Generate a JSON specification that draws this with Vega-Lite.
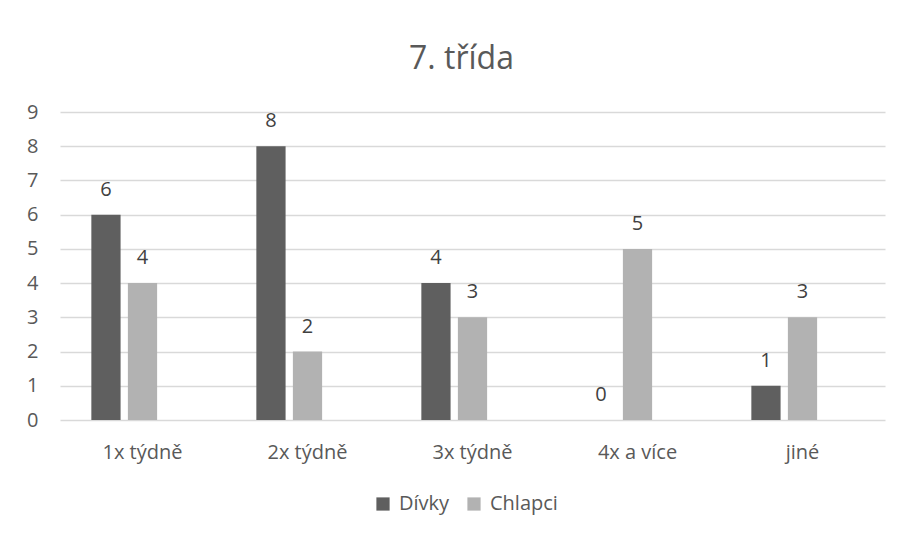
{
  "$schema": "https://vega.github.io/schema/vega-lite/v6.json",
  "autosize": "none",
  "width": 825,
  "height": 308,
  "padding": {"left": 60, "top": 112, "right": 19, "bottom": 116},
  "background": "white",
  "title": {
    "text": "7. třída",
    "font": "Open Sans",
    "fontSize": 32,
    "fontWeight": "normal",
    "color": "#595959",
    "anchor": "middle",
    "frame": "group",
    "baseline": "alphabetic",
    "offset": 1,
    "dx": -11
  },
  "data": {
    "values": [
      {"kategorie": "1x týdně", "skupina": "Dívky", "pocet": 6},
      {"kategorie": "1x týdně", "skupina": "Chlapci", "pocet": 4},
      {"kategorie": "2x týdně", "skupina": "Dívky", "pocet": 8},
      {"kategorie": "2x týdně", "skupina": "Chlapci", "pocet": 2},
      {"kategorie": "3x týdně", "skupina": "Dívky", "pocet": 4},
      {"kategorie": "3x týdně", "skupina": "Chlapci", "pocet": 3},
      {"kategorie": "4x a více", "skupina": "Dívky", "pocet": 0},
      {"kategorie": "4x a více", "skupina": "Chlapci", "pocet": 5},
      {"kategorie": "jiné", "skupina": "Dívky", "pocet": 1},
      {"kategorie": "jiné", "skupina": "Chlapci", "pocet": 3}
    ]
  },
  "encoding": {
    "x": {
      "field": "kategorie",
      "type": "nominal",
      "sort": null,
      "scale": {"paddingInner": 0.38, "paddingOuter": 0.19},
      "axis": {
        "title": null,
        "labelAngle": 0,
        "domain": false,
        "ticks": false,
        "labelPadding": 22,
        "labelFont": "Open Sans",
        "labelFontSize": 20,
        "labelColor": "#595959"
      }
    },
    "xOffset": {
      "field": "skupina",
      "type": "nominal",
      "scale": {"domain": ["Dívky", "Chlapci", "prázdné"], "paddingInner": 0.2, "paddingOuter": 0}
    },
    "y": {
      "field": "pocet",
      "type": "quantitative",
      "scale": {"domain": [0, 9], "nice": false},
      "axis": {
        "title": null,
        "values": [0, 1, 2, 3, 4, 5, 6, 7, 8, 9],
        "domain": false,
        "ticks": false,
        "labelPadding": 22,
        "labelFont": "Open Sans",
        "labelFontSize": 20,
        "labelColor": "#595959",
        "gridColor": "#d9d9d9",
        "gridWidth": 1.3
      }
    }
  },
  "layer": [
    {
      "mark": {"type": "bar"},
      "encoding": {
        "color": {
          "field": "skupina",
          "type": "nominal",
          "scale": {"domain": ["Dívky", "Chlapci"], "range": ["#5f5f5f", "#b2b2b2"]},
          "legend": {
            "title": null,
            "orient": "none",
            "direction": "horizontal",
            "legendX": 313,
            "legendY": 382,
            "symbolType": "square",
            "symbolSize": 175,
            "symbolStrokeWidth": 0,
            "labelFont": "Open Sans",
            "labelFontSize": 20,
            "labelColor": "#595959",
            "labelOffset": 6,
            "columnPadding": 14
          }
        }
      }
    },
    {
      "mark": {
        "type": "text",
        "dy": -25,
        "baseline": "middle",
        "font": "Open Sans",
        "fontSize": 20,
        "color": "#404040"
      },
      "encoding": {
        "text": {"field": "pocet", "type": "quantitative"}
      }
    }
  ],
  "config": {
    "view": {"stroke": null}
  }
}
